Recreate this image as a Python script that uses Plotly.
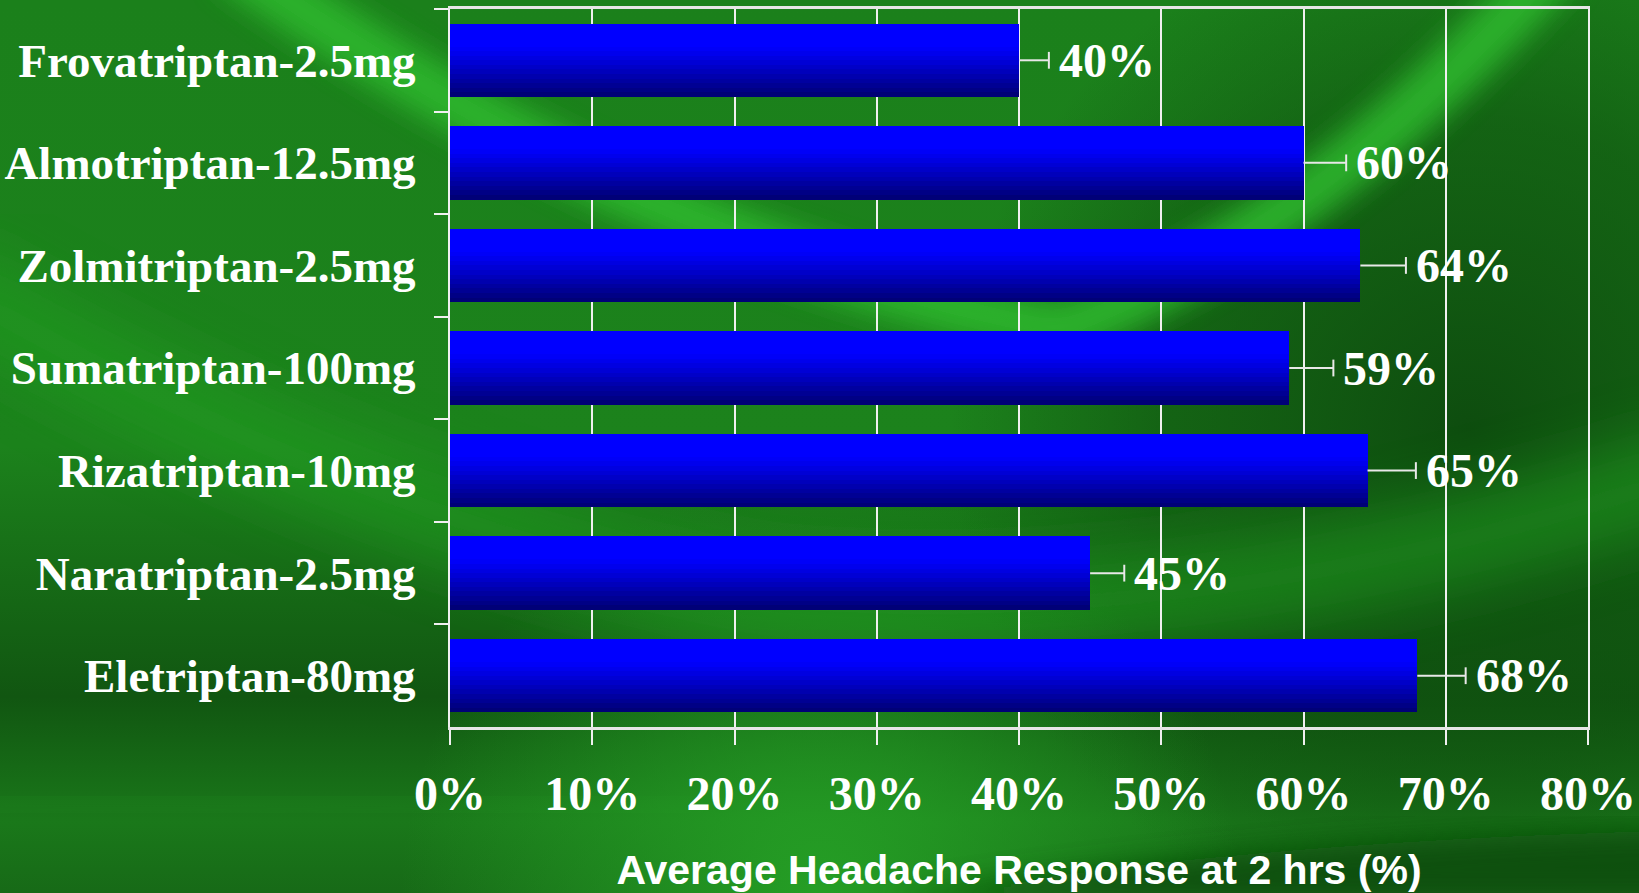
import base64
import plotly.graph_objects as go

# ---------------- data ----------------
categories = ["Frovatriptan-2.5mg", "Almotriptan-12.5mg", "Zolmitriptan-2.5mg",
              "Sumatriptan-100mg", "Rizatriptan-10mg", "Naratriptan-2.5mg",
              "Eletriptan-80mg"]
response = [40, 60, 64, 59, 64.5, 45, 68]
error_plus = [2.1, 3.0, 3.2, 3.1, 3.4, 2.4, 3.4]
value_labels = ["40%", "60%", "64%", "59%", "65%", "45%", "68%"]
x_tick_values = [0, 10, 20, 30, 40, 50, 60, 70, 80]
x_tick_labels = ["0%", "10%", "20%", "30%", "40%", "50%", "60%", "70%", "80%"]
x_title = "Average Headache Response at 2 hrs (%)"

# ---------------- layout geometry ----------------
W, H = 1639, 893
ML, MR, MT, MB = 450, 51, 9, 166
PW, PH = W - ML - MR, H - MT - MB

# ---------------- decorative background (svg) ----------------
svg = f"""<svg xmlns="http://www.w3.org/2000/svg" width="{W}" height="{H}" viewBox="0 0 {W} {H}">
<defs>
<linearGradient id="base" x1="0" y1="0" x2="0" y2="1">
<stop offset="0" stop-color="#1b801b"/>
<stop offset="0.5" stop-color="#1c821c"/>
<stop offset="0.78" stop-color="#115611"/>
<stop offset="0.92" stop-color="#1a781a"/>
<stop offset="1" stop-color="#176a17"/>
</linearGradient>
<radialGradient id="dark" cx="1470" cy="430" r="520" gradientUnits="userSpaceOnUse">
<stop offset="0" stop-color="#0d4a0e" stop-opacity="0.95"/>
<stop offset="0.6" stop-color="#0f500f" stop-opacity="0.6"/>
<stop offset="1" stop-color="#0f500f" stop-opacity="0"/>
</radialGradient>
<radialGradient id="glow" cx="820" cy="900" r="420" gradientUnits="userSpaceOnUse">
<stop offset="0" stop-color="#27a527" stop-opacity="0.9"/>
<stop offset="1" stop-color="#27a527" stop-opacity="0"/>
</radialGradient>
<filter id="b1" x="-20%" y="-20%" width="140%" height="140%"><feGaussianBlur stdDeviation="14"/></filter>
<filter id="b2" x="-20%" y="-20%" width="140%" height="140%"><feGaussianBlur stdDeviation="30"/></filter>
</defs>
<rect width="{W}" height="{H}" fill="url(#base)"/>
<rect width="{W}" height="{H}" fill="url(#dark)"/>
<path d="M 230 -40 Q 640 250 1060 330 Q 1320 230 1560 -40" stroke="#2dba2d" stroke-width="55" fill="none" filter="url(#b1)" opacity="0.85"/>
<path d="M -60 280 Q 350 520 760 600 Q 1200 640 1700 470" stroke="#23a023" stroke-width="90" fill="none" filter="url(#b2)" opacity="0.55"/>
<path d="M -40 800 Q 300 795 700 810" stroke="#2a9a2a" stroke-width="8" fill="none" filter="url(#b1)" opacity="0.5"/>
<rect width="{W}" height="{H}" fill="url(#glow)"/>
<path d="M 880 900 Q 1250 840 1700 830 L 1700 900 Z" fill="#0f4d10" filter="url(#b1)" opacity="0.9"/>
</svg>"""
svg_uri = "data:image/svg+xml;base64," + base64.b64encode(svg.encode("utf-8")).decode("ascii")

fig = go.Figure()

# ---------------- gradient bars (stacked thin bands) ----------------
N_BANDS = 16
BAR_W = 0.715
dw = BAR_W / N_BANDS
for i in range(N_BANDS):
    t = (i + 0.5) / N_BANDS
    if t < 0.3:
        b = 255
    else:
        b = round(255 - (255 - 112) * ((t - 0.3) / 0.7) ** 1.1)
    fig.add_trace(go.Bar(
        x=response, y=categories, orientation="h",
        width=dw, offset=-BAR_W / 2 + i * dw,
        marker=dict(color=f"rgb(0,0,{b})", line=dict(width=0)),
        showlegend=False, hoverinfo="skip",
    ))

# ---------------- one-sided error bars (whisker line + end cap) ----------------
err_end = [v + e for v, e in zip(response, error_plus)]
wx, wy = [], []
for cat, v, e_end in zip(categories, response, err_end):
    wx += [v, e_end, None]
    wy += [cat, cat, None]
fig.add_trace(go.Scatter(
    x=wx, y=wy, mode="lines", line=dict(color="#e8e8e8", width=2),
    showlegend=False, hoverinfo="skip",
))
fig.add_trace(go.Scatter(
    x=err_end, y=categories, mode="markers",
    marker=dict(symbol="line-ns", size=12, line=dict(color="#e8e8e8", width=2)),
    showlegend=False, hoverinfo="skip",
))

# ---------------- value labels ----------------
for cat, e_end, lab in zip(categories, err_end, value_labels):
    fig.add_annotation(
        x=e_end, y=cat, text=lab, showarrow=False,
        xanchor="left", yanchor="middle", xshift=8, yshift=0,
        font=dict(family="Liberation Serif", size=48, color="white", weight="bold"),
    )

fig.update_layout(
    width=W, height=H,
    margin=dict(l=ML, r=MR, t=MT, b=MB, pad=0),
    paper_bgcolor="#1a7a1a",
    plot_bgcolor="rgba(0,0,0,0)",
    barmode="overlay",
    bargap=0,
    hovermode=False,
    images=[dict(
        source=svg_uri, xref="paper", yref="paper",
        x=-ML / PW, y=1 + MT / PH, sizex=W / PW, sizey=H / PH,
        xanchor="left", yanchor="top", sizing="stretch", layer="below",
    )],
    xaxis=dict(
        range=[0, 80], tickmode="array", tickvals=x_tick_values, ticktext=x_tick_labels,
        showgrid=True, gridcolor="#f0f0f0", gridwidth=1.5, zeroline=False,
        showline=True, linecolor="#e6e6e6", linewidth=2.5, mirror=True,
        ticks="outside", ticklen=15, tickwidth=2, tickcolor="#f0f0f0",
        tickfont=dict(family="Liberation Serif", size=48, color="white", weight="bold"),
        ticklabelstandoff=8,
        title=dict(text=x_title, standoff=46,
                   font=dict(family="Liberation Sans", size=41, color="white", weight="bold")),
        automargin=False, fixedrange=True,
    ),
    yaxis=dict(
        type="category", categoryorder="array", categoryarray=categories,
        autorange="reversed", showgrid=False, zeroline=False,
        showline=True, linecolor="#f0f0f0", linewidth=2, mirror=True,
        ticks="outside", tickson="boundaries", ticklen=14, tickwidth=2, tickcolor="#f0f0f0",
        tickfont=dict(family="Liberation Serif", size=47, color="white", weight="bold"),
        ticklabelstandoff=23,
        automargin=False, fixedrange=True,
    ),
)

fig.write_html("out.html", config={"displayModeBar": False})
